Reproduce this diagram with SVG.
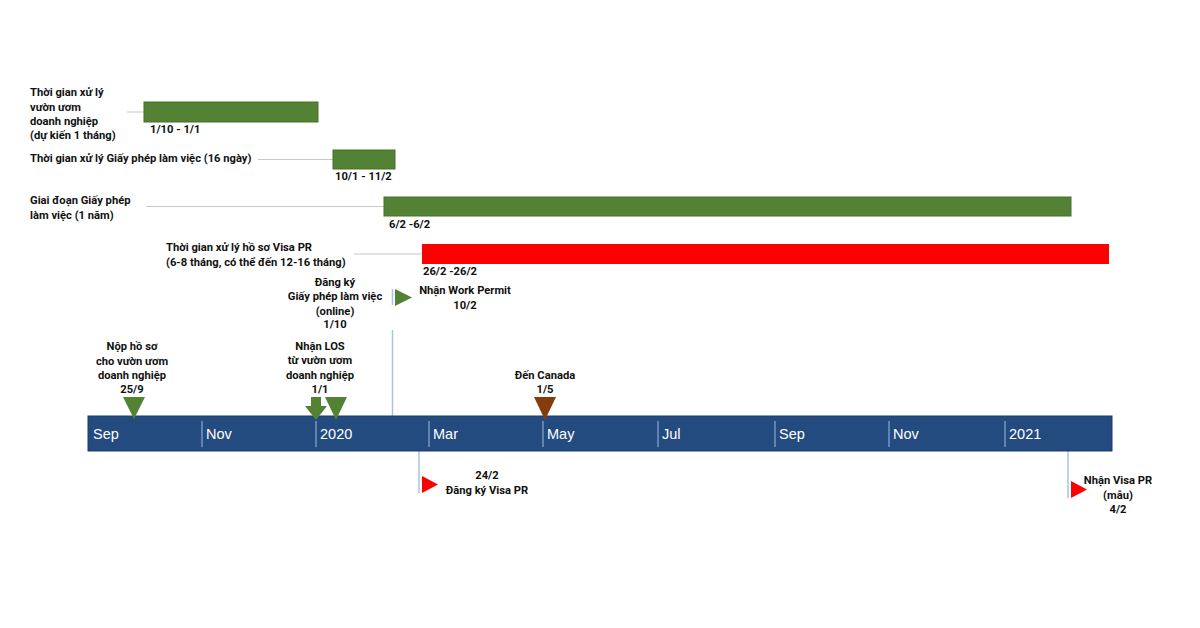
<svg xmlns="http://www.w3.org/2000/svg" width="1200" height="628" viewBox="0 0 1200 628">
<style>
.t{font-family:Roboto,"Liberation Sans",Arial,sans-serif;font-weight:bold;font-size:11.2px;fill:#111}
.m{text-anchor:middle}
.ax{font-family:"Liberation Sans",Arial,sans-serif;font-size:14.5px;fill:#fff}
.g{fill:#548235;stroke:#46702b;stroke-width:1}
.r{fill:#ff0000}
.c{stroke:#c8c8c8;stroke-width:1;fill:none}
.v{stroke:#a9c4e0;stroke-width:1.5;fill:none}
.tk{stroke:#8ea9cf;stroke-width:1.2}
.gt{fill:#548235}
</style>
<rect width="1200" height="628" fill="#fff"/>
<g id="connectors">
<line class="c" x1="127" y1="112" x2="144" y2="112"/>
<line class="c" x1="258" y1="159.5" x2="333" y2="159.5"/>
<line class="c" x1="146" y1="206.5" x2="384" y2="206.5"/>
<line class="c" x1="354" y1="254" x2="422" y2="254"/>
<line class="v" x1="392.5" y1="289" x2="392.5" y2="305"/>
<line class="v" x1="392.5" y1="330" x2="392.5" y2="416"/>
<line class="v" x1="419" y1="451" x2="419" y2="493"/>
<line class="v" x1="1068" y1="451" x2="1068" y2="498"/>
</g>
<g id="timeline">
<rect x="88" y="416" width="1024" height="35" fill="#244b80" stroke="#1b3d6b" stroke-width="1"/>
<line class="tk" x1="202" y1="421" x2="202" y2="447"/>
<line class="tk" x1="316" y1="421" x2="316" y2="447"/>
<line class="tk" x1="429" y1="421" x2="429" y2="447"/>
<line class="tk" x1="543" y1="421" x2="543" y2="447"/>
<line class="tk" x1="658" y1="421" x2="658" y2="447"/>
<line class="tk" x1="775" y1="421" x2="775" y2="447"/>
<line class="tk" x1="889" y1="421" x2="889" y2="447"/>
<line class="tk" x1="1005" y1="421" x2="1005" y2="447"/>
<text class="ax" x="93" y="439">Sep</text>
<text class="ax" x="206" y="439">Nov</text>
<text class="ax" x="320" y="439">2020</text>
<text class="ax" x="433" y="439">Mar</text>
<text class="ax" x="547" y="439">May</text>
<text class="ax" x="662" y="439">Jul</text>
<text class="ax" x="779" y="439">Sep</text>
<text class="ax" x="893" y="439">Nov</text>
<text class="ax" x="1009" y="439">2021</text>
</g>
<g id="bar1">
<rect class="g" x="144" y="102" width="174" height="20"/>
<text class="t" x="150" y="133">1/10 - 1/1</text>
<text class="t" x="30" y="96">Thời gian xử lý</text>
<text class="t" x="30" y="111">vườn ươm</text>
<text class="t" x="30" y="125">doanh nghiệp</text>
<text class="t" x="30" y="139">(dự kiến 1 tháng)</text>
</g>
<g id="bar2">
<rect class="g" x="333" y="150" width="62" height="19"/>
<text class="t" x="335" y="180">10/1 - 11/2</text>
<text class="t" x="30" y="162">Thời gian xử lý Giấy phép làm việc (16 ngày)</text>
</g>
<g id="bar3">
<rect class="g" x="384" y="197" width="687" height="19"/>
<text class="t" x="389" y="228">6/2 -6/2</text>
<text class="t" x="30" y="204">Giai đoạn Giấy phép</text>
<text class="t" x="30" y="219">làm việc (1 năm)</text>
</g>
<g id="bar4">
<rect class="r" x="422" y="244" width="687" height="20"/>
<text class="t" x="423" y="275">26/2 -26/2</text>
<text class="t" x="166" y="251">Thời gian xử lý hồ sơ Visa PR</text>
<text class="t" x="166" y="266">(6-8 tháng, có thể đến 12-16 tháng)</text>
</g>
<g id="m-nop">
<polygon class="gt" points="123,397 145,397 134,419"/>
<text class="t m" x="132" y="350">Nộp hồ sơ</text>
<text class="t m" x="132" y="365">cho vườn ươm</text>
<text class="t m" x="132" y="379">doanh nghiệp</text>
<text class="t m" x="132" y="393">25/9</text>
</g>
<g id="m-los">
<polygon class="gt" points="311,397 321,397 321,406 327,406 316,420 305,406 311,406"/>
<text class="t m" x="320" y="350">Nhận LOS</text>
<text class="t m" x="320" y="364">từ vườn ươm</text>
<text class="t m" x="320" y="379">doanh nghiệp</text>
<text class="t m" x="320" y="393">1/1</text>
</g>
<g id="m-dangky">
<polygon class="gt" points="325,397 347,397 336,420"/>
<text class="t m" x="335" y="286">Đăng ký</text>
<text class="t m" x="335" y="300">Giấy phép làm việc</text>
<text class="t m" x="335" y="315">(online)</text>
<text class="t m" x="335" y="328">1/10</text>
</g>
<g id="m-wp">
<polygon class="gt" points="395,289 412,297.5 395,306"/>
<text class="t m" x="465" y="294">Nhận Work Permit</text>
<text class="t m" x="465" y="309">10/2</text>
</g>
<g id="m-canada">
<polygon fill="#843c0c" points="534,397 556,397 545,420"/>
<text class="t m" x="545" y="379">Đến Canada</text>
<text class="t m" x="545" y="393">1/5</text>
</g>
<g id="m-visa">
<polygon class="r" points="422,476 438,484.5 422,493"/>
<text class="t m" x="487" y="479">24/2</text>
<text class="t m" x="487" y="494">Đăng ký Visa PR</text>
</g>
<g id="m-pr">
<polygon class="r" points="1071,481 1087,489.5 1071,498"/>
<text class="t m" x="1118" y="484">Nhận Visa PR</text>
<text class="t m" x="1118" y="499">(mẫu)</text>
<text class="t m" x="1118" y="513">4/2</text>
</g>
</svg>
